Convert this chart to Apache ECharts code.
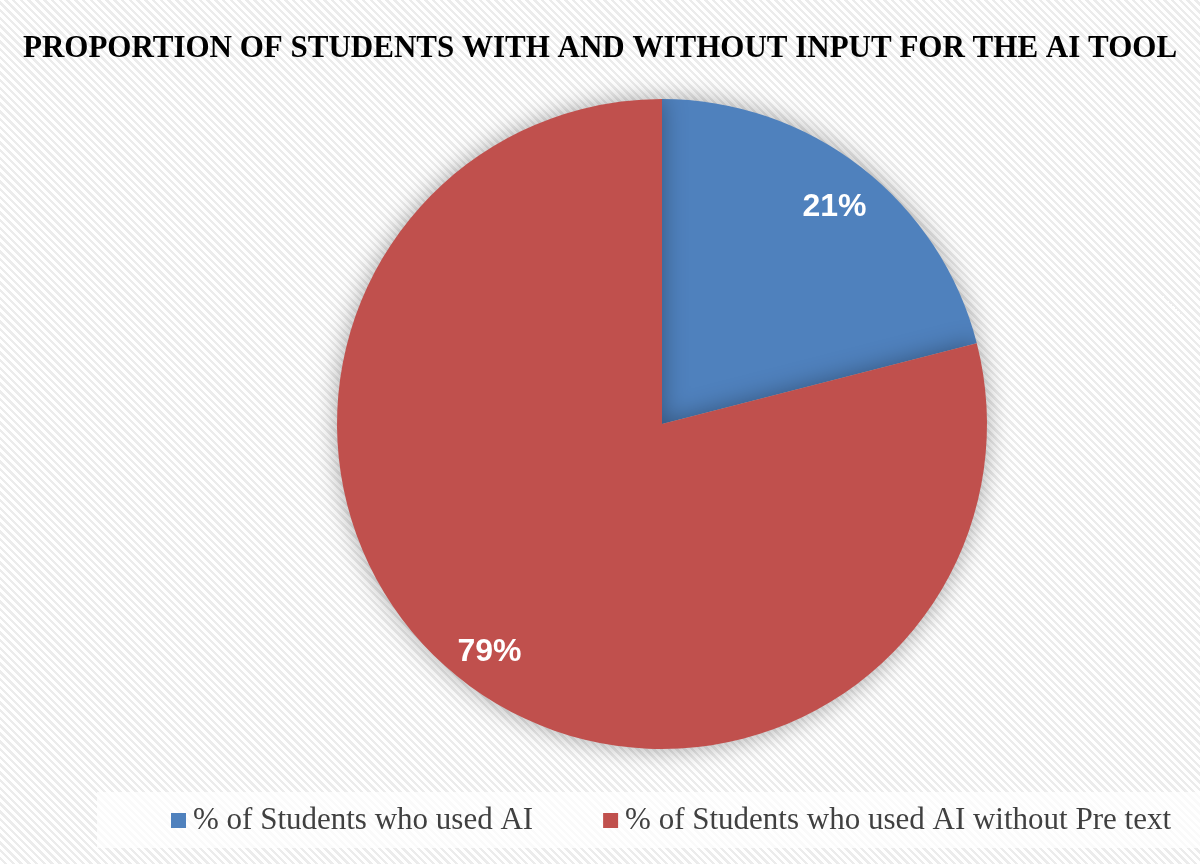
<!DOCTYPE html>
<html><head><meta charset="utf-8">
<script src="https://cdn.jsdelivr.net/npm/echarts@6/dist/echarts.min.js"></script>
<style>
html,body{margin:0;padding:0;}
body{width:1200px;height:864px;background:repeating-linear-gradient(45deg,#ffffff 0px,#ffffff 3px,#ececec 3px,#ececec 5.5px);}
#c{width:1200px;height:864px;}
</style></head>
<body><div id="c"></div>
<script>
const categories = ['% of Students who used AI', '% of Students who used AI without Pre text'];
const values = [21, 79];
const colors = ['#4F81BD', '#C0504D'];
const titleText = 'PROPORTION OF STUDENTS WITH AND WITHOUT INPUT FOR THE AI TOOL';

const chart = echarts.init(document.getElementById('c'), null, {renderer:'canvas'});
const data = categories.map((n,i)=>({name:n, value:values[i], itemStyle:{color:colors[i]}}));
chart.setOption({
  backgroundColor: 'transparent',
  animation: false,
  title: {
    text: titleText, left: 'center', top: 28,
    textStyle: {fontFamily: 'Liberation Serif', fontWeight: 'bold', fontSize: 31, color: '#000'}
  },
  graphic: [{type:'rect', left: 97, top: 792, shape:{width:1103, height:56}, style:{fill:'rgba(255,255,255,0.75)'}, silent:true, z:-1}],
  legend: {
    bottom: 23, left: 166, itemWidth: 15, itemHeight: 15, itemGap: 70, icon: 'rect',
    textStyle: {fontFamily: 'Liberation Serif', fontSize: 31, color: '#404040', padding:[0,0,0,2]},
    data: categories
  },
  series: [
    {
      type: 'pie', center: [662, 424], radius: [0, 325], startAngle: 90, clockwise: true,
      data: data, label: {show:false}, labelLine:{show:false},
      itemStyle: {shadowBlur: 24, shadowColor: 'rgba(0,0,0,0.35)'},
      emphasis: {disabled: true}
    },
    {
      type: 'pie', center: [662, 424], radius: [232, 325], startAngle: 90, clockwise: true, silent: true,
      data: categories.map((n,i)=>({name:n, value:values[i]})),
      itemStyle: {color: 'rgba(0,0,0,0)'},
      label: {show:true, position:'inside', offset:[0,6], formatter: p => p.value + '%', color:'#fff', fontFamily:'Liberation Sans', fontWeight:'bold', fontSize: 32},
      labelLine:{show:false},
      emphasis: {disabled: true}
    }
  ]
});
</script>
</body></html>
